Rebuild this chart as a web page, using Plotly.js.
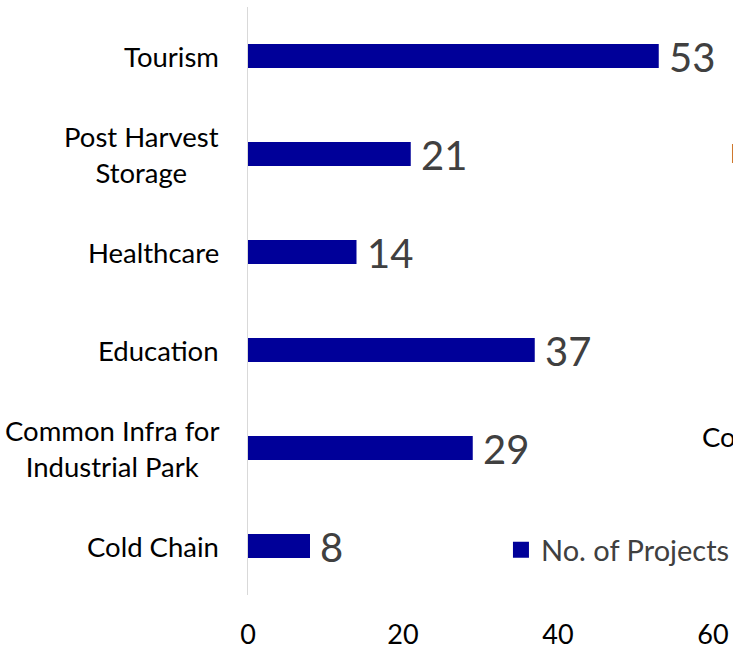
<!DOCTYPE html>
<html>
<head>
<meta charset="utf-8">
<script src="https://cdn.plot.ly/plotly-3.0.1.min.js"></script>
<style>html,body{margin:0;padding:0;background:#fff;overflow:hidden}#chart{width:733px;height:649px}</style>
</head>
<body>
<div id="chart"></div>
<script>
const categories = ['Tourism', 'Post Harvest<br>Storage', 'Healthcare', 'Education', 'Common Infra for<br>Industrial Park', 'Cold Chain'];
const projects = [53, 21, 14, 37, 29, 8];
const seriesName = 'No. of Projects';
const xTicks = [0, 20, 40, 60];
const cutLabels = ['P', 'Co'];

const FONT = 'Lato, "Open Sans", sans-serif';
const BAR = '#000099';

const traces = [
  {
    type: 'bar', orientation: 'h',
    y: categories, x: projects,
    width: 0.245,
    marker: {color: BAR},
    showlegend: false, hoverinfo: 'skip'
  },
  {
    type: 'scatter', mode: 'markers',
    x: [null], y: [null],
    name: seriesName,
    marker: {symbol: 'square', size: 16, color: BAR},
    showlegend: true
  }
];

const annotations = [];
categories.forEach((c, i) => {
  annotations.push({
    xref: 'paper', yref: 'y', x: 0, y: c,
    xanchor: 'right', yanchor: 'middle', xshift: -27,
    text: c, align: 'center', showarrow: false,
    font: {family: FONT, size: 27.5, color: '#000'}
  });
  annotations.push({
    xref: 'x', yref: 'y', x: projects[i], y: c,
    xanchor: 'left', yanchor: 'middle', xshift: 8, yshift: -1,
    text: String(projects[i]), showarrow: false,
    font: {family: FONT, size: 40, color: '#404040'}
  });
});
annotations.push({xref: 'paper', yref: 'paper', x: 1.032, y: 0.753, xanchor: 'left', yanchor: 'middle',
  text: cutLabels[0], showarrow: false, font: {family: FONT, size: 27.5, color: '#000'}});
annotations.push({xref: 'paper', yref: 'paper', x: 0.972, y: 0.269, xanchor: 'left', yanchor: 'middle',
  text: cutLabels[1], showarrow: false, font: {family: FONT, size: 27.5, color: '#000'}});

const layout = {
  width: 733, height: 649,
  margin: {l: 248, r: 20, t: 7, b: 54, autoexpand: false},
  paper_bgcolor: '#fff', plot_bgcolor: '#fff',
  font: {family: FONT, color: '#000'},
  xaxis: {
    range: [0, 60], tickvals: xTicks, ticktext: xTicks.map(String),
    showgrid: false, zeroline: false, showline: false,
    ticks: 'outside', ticklen: 16, tickcolor: 'rgba(0,0,0,0)',
    tickfont: {family: FONT, size: 27, color: '#000'},
    fixedrange: true
  },
  yaxis: {
    type: 'category', range: [5.5, -0.5],
    showticklabels: false, showgrid: false, zeroline: false,
    showline: true, linecolor: '#d9d9d9', linewidth: 1.5,
    ticks: '', fixedrange: true
  },
  showlegend: true,
  legend: {
    x: 0.544, y: 0.0765, xanchor: 'left', yanchor: 'middle',
    bgcolor: 'rgba(0,0,0,0)',
    font: {family: FONT, size: 29, color: '#404040'}
  },
  annotations: annotations
};

Plotly.newPlot('chart', traces, layout, {displayModeBar: false, staticPlot: true});
</script>
</body>
</html>
